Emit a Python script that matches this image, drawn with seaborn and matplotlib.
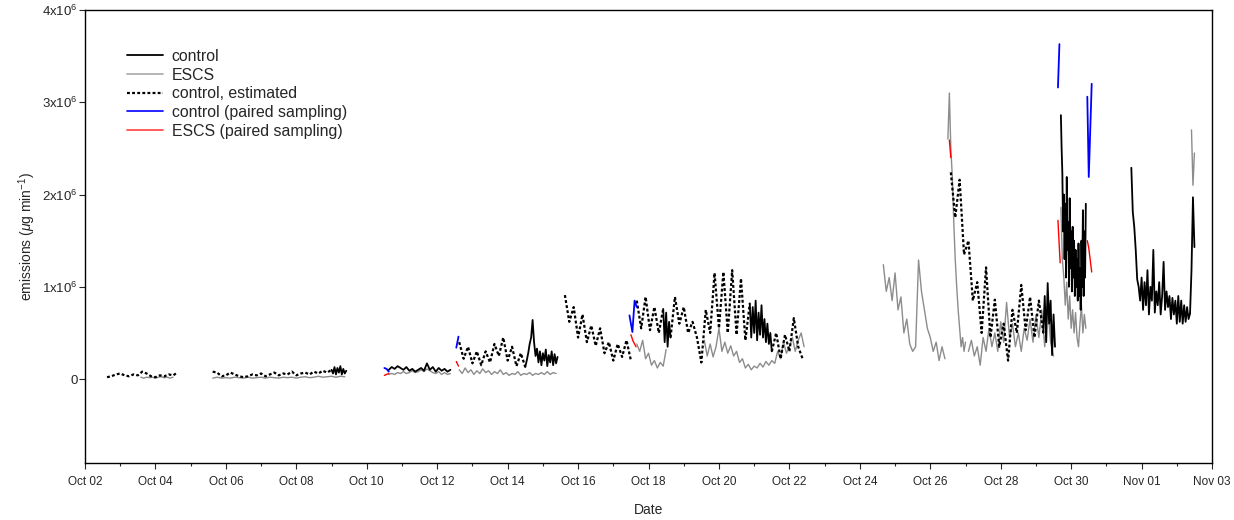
import numpy as np
import pandas as pd
import matplotlib
matplotlib.use('Agg')
import matplotlib.pyplot as plt
import matplotlib.dates as mdates
from matplotlib.lines import Line2D
import seaborn as sns

#---data, emissions in units of 1e6 ug/min
# measured control stack
ctrl_a = [0.1, 0.06, 0.13, 0.05, 0.12, 0.07, 0.14, 0.05, 0.11, 0.06, 0.09]
ctrl_b = [0.1, 0.13, 0.11, 0.14, 0.12, 0.1, 0.13, 0.09, 0.11, 0.08, 0.1, 0.12, 0.09, 0.17, 0.1, 0.13,
          0.08, 0.12, 0.09, 0.11, 0.08, 0.1]
ctrl_c = [0.13, 0.2, 0.28, 0.38, 0.45, 0.64, 0.4, 0.25, 0.33, 0.18, 0.3, 0.15, 0.28, 0.2, 0.32, 0.14,
          0.26, 0.18, 0.3, 0.15, 0.27, 0.17, 0.24]
ctrl_e = [0.76, 0.40, 0.72, 0.35, 0.62, 0.45]
ctrl_f = [0.82, 0.45, 0.78, 0.5, 0.85, 0.42, 0.72, 0.48, 0.8, 0.45, 0.65, 0.4, 0.6, 0.38, 0.5, 0.3]
ctrl_h = [0.5, 0.9, 0.4, 1.04, 0.6, 0.85, 0.26, 0.7, 0.35]
ctrl_i = [2.86, 2.5, 2.23, 1.6, 2.0, 1.3, 1.9, 1.1, 2.19, 1.4, 1.7, 1.0, 1.96, 1.2, 1.6, 0.95, 1.65,
          1.1, 1.5, 0.9, 1.4, 1.0, 1.3, 0.85, 1.47, 0.9, 1.2, 0.75, 1.5, 1.0, 1.83, 0.9, 1.6, 1.1, 1.9]
ctrl_j = [2.29, 1.81, 1.65, 1.4, 1.08, 1.0, 0.85, 1.1, 0.75, 1.05, 0.8, 1.18, 0.7, 1.0, 0.85, 1.4,
          0.72, 0.95, 0.8, 1.05, 0.7, 0.9, 1.27, 0.75, 0.95, 0.78, 0.9, 0.65, 0.88, 0.7, 0.85, 0.6,
          0.9, 0.62, 0.85, 0.6, 0.8, 0.62, 0.78, 0.65, 0.71]
ctrl_k = [0.71, 1.18, 1.97, 1.43]

# estimated control
est_a = [0.02, 0.03, 0.05, 0.06, 0.04, 0.03, 0.05, 0.04, 0.08, 0.06, 0.03, 0.02, 0.04, 0.03, 0.05, 0.04, 0.07]
est_b = [0.08, 0.07, 0.03, 0.04, 0.07, 0.05, 0.03, 0.02, 0.03, 0.05, 0.04, 0.06, 0.03, 0.05, 0.07, 0.04,
         0.06, 0.05, 0.08, 0.04, 0.06, 0.07, 0.05, 0.08, 0.06, 0.09, 0.07, 0.1]
est_c = [0.40, 0.22, 0.35, 0.17, 0.30, 0.15, 0.30, 0.18, 0.38, 0.25, 0.45, 0.20, 0.35, 0.14, 0.28, 0.13]
est_d = [0.91, 0.62, 0.78, 0.45, 0.70, 0.40, 0.58, 0.36, 0.55, 0.28, 0.40, 0.20, 0.38, 0.24, 0.42, 0.20]
est_e = [0.85, 0.55, 0.89, 0.53, 0.78, 0.50, 0.76]
est_f = [0.45, 0.89, 0.6, 0.78, 0.5, 0.62, 0.45, 0.18, 0.75, 0.5, 1.15, 0.55, 1.16, 0.5, 1.18, 0.48,
         1.09, 0.42, 0.82]
est_g = [0.3, 0.5, 0.22, 0.48, 0.3, 0.66, 0.35, 0.22]
est_h = [2.24, 1.75, 2.16, 1.35, 1.5, 0.85, 1.05, 0.5, 1.21, 0.45, 0.86, 0.35, 0.6, 0.2, 0.75, 0.5,
         1.02, 0.53, 0.89, 0.45, 0.85, 0.5]

# ESCS stack
escs_a = [0.02, 0.01, 0.02, 0.015, 0.02, 0.01, 0.02, 0.025, 0.015, 0.02, 0.01, 0.02]
escs_b = [0.01, 0.02, 0.01, 0.015, 0.01, 0.02, 0.015, 0.01, 0.02, 0.01, 0.015, 0.02, 0.01, 0.02, 0.015,
          0.01, 0.02, 0.015, 0.02, 0.01, 0.02, 0.025, 0.015, 0.02, 0.03, 0.02, 0.025, 0.03, 0.02, 0.03, 0.025]
escs_c = [0.05, 0.06, 0.05, 0.07, 0.06, 0.08, 0.06, 0.07, 0.09, 0.07, 0.08, 0.1, 0.08, 0.11, 0.09, 0.07,
          0.06, 0.08, 0.05, 0.07, 0.05, 0.06]
escs_d = [0.1, 0.06, 0.12, 0.07, 0.1, 0.05, 0.09, 0.06, 0.11, 0.07, 0.09, 0.05, 0.08, 0.06, 0.1, 0.05,
          0.07, 0.04, 0.06, 0.05, 0.08, 0.04, 0.06, 0.05, 0.07, 0.04, 0.06, 0.05, 0.07, 0.05, 0.08, 0.05,
          0.07, 0.06]
escs_e = [0.38, 0.3, 0.42, 0.22, 0.28, 0.15, 0.2, 0.12, 0.18, 0.14, 0.32]
escs_f = [0.42, 0.25, 0.38, 0.24, 0.35, 0.55, 0.3, 0.4, 0.28, 0.36, 0.25, 0.3, 0.18, 0.22, 0.12, 0.16,
          0.1, 0.14, 0.12, 0.17, 0.13, 0.19, 0.15, 0.2, 0.17, 0.3, 0.22, 0.4, 0.28, 0.35, 0.45, 0.3,
          0.42, 0.5, 0.35]
escs_g = [1.24, 0.95, 1.1, 0.85, 1.15, 0.75, 0.89, 0.5, 0.65, 0.38, 0.3, 0.35, 1.29, 0.95, 0.75, 0.55,
          0.45, 0.3, 0.4, 0.2, 0.35, 0.22]
escs_h = [2.6, 3.1, 2.5, 2.2, 1.7, 1.3, 1.0, 0.75, 0.55, 0.35, 0.45, 0.3, 0.4]
escs_i = [0.3, 0.42, 0.25, 0.35, 0.15, 0.45, 0.3, 0.55, 0.35, 0.5, 0.3, 0.62, 0.4, 0.83, 0.45, 0.6,
          0.35, 0.5, 0.3, 0.55, 0.42, 0.65, 0.4, 0.7, 0.45, 0.75, 0.35, 0.8, 0.4, 0.25]
escs_j = [1.86, 1.3, 1.1, 0.8, 1.05, 0.65, 0.9, 0.55, 0.75, 0.5, 0.72, 0.45, 0.35, 0.6, 0.8, 0.5, 0.7, 0.55]
escs_k = [2.7, 2.1, 2.45]

# paired sampling runs
pc_1_t = ['2012-10-10 12:00', '2012-10-10 13:30', '2012-10-10 15:00']
pc_1 = [0.12, 0.11, 0.08]
pc_2_t = ['2012-10-12 13:00', '2012-10-12 14:30']
pc_2 = [0.34, 0.46]
pc_3_t = ['2012-10-17 11:00', '2012-10-17 13:00', '2012-10-17 14:30', '2012-10-17 16:00']
pc_3 = [0.69, 0.51, 0.85, 0.78]
pc_4_t = ['2012-10-29 15:00', '2012-10-29 16:00']
pc_4 = [3.16, 3.63]
pc_5_t = ['2012-10-30 11:00', '2012-10-30 12:00', '2012-10-30 14:00']
pc_5 = [3.06, 2.19, 3.2]

pe_1_t = ['2012-10-10 12:00', '2012-10-10 13:30', '2012-10-10 15:00']
pe_1 = [0.04, 0.05, 0.06]
pe_2_t = ['2012-10-12 13:00', '2012-10-12 14:30']
pe_2 = [0.19, 0.14]
pe_3_t = ['2012-10-17 12:00', '2012-10-17 13:30', '2012-10-17 15:30']
pe_3 = [0.48, 0.41, 0.35]
pe_4_t = ['2012-10-26 13:00', '2012-10-26 14:00']
pe_4 = [2.59, 2.4]
pe_5_t = ['2012-10-29 15:00', '2012-10-29 16:30']
pe_5 = [1.72, 1.26]
pe_6_t = ['2012-10-30 11:00', '2012-10-30 12:00', '2012-10-30 14:00']
pe_6 = [1.5, 1.42, 1.16]

ytick_vals = [0, 1e6, 2e6, 3e6, 4e6]
ytick_labels = ['0', '1x10$^{6}$', '2x10$^{6}$', '3x10$^{6}$', '4x10$^{6}$']


def regular(segs):
    frames = []
    for k, (start, step, vals) in enumerate(segs):
        t = pd.date_range(start, periods=len(vals), freq=step)
        frames.append(pd.DataFrame({'time': t, 'emis': np.array(vals) * 1e6, 'seg': k}))
    return pd.concat(frames, ignore_index=True)


def paired(segs):
    frames = []
    for k, (times, vals) in enumerate(segs):
        frames.append(pd.DataFrame({'time': pd.to_datetime(times), 'emis': np.array(vals) * 1e6, 'seg': k}))
    return pd.concat(frames, ignore_index=True)


df_ctrl = regular([('2012-10-09 00:00', '1h', ctrl_a), ('2012-10-10 15:00', '2h', ctrl_b),
                   ('2012-10-14 12:00', '1h', ctrl_c), ('2012-10-18 10:00', '1h', ctrl_e),
                   ('2012-10-20 21:00', '1h', ctrl_f), ('2012-10-29 05:00', '1h', ctrl_h),
                   ('2012-10-29 17:00', '30min', ctrl_i), ('2012-10-31 17:00', '1h', ctrl_j),
                   ('2012-11-02 09:00', '1h', ctrl_k)])
df_est = regular([('2012-10-02 15:00', '3h', est_a), ('2012-10-05 15:00', '3h', est_b),
                  ('2012-10-12 15:00', '3h', est_c), ('2012-10-15 15:00', '3h', est_d),
                  ('2012-10-17 16:00', '3h', est_e), ('2012-10-18 15:00', '3h', est_f),
                  ('2012-10-21 12:00', '3h', est_g), ('2012-10-26 14:00', '3h', est_h)])
df_escs = regular([('2012-10-03 14:00', '2h', escs_a), ('2012-10-05 15:00', '3h', escs_b),
                   ('2012-10-10 15:00', '2h', escs_c), ('2012-10-12 15:00', '2h', escs_d),
                   ('2012-10-17 16:00', '2h', escs_e), ('2012-10-19 14:00', '2h', escs_f),
                   ('2012-10-24 16:00', '2h', escs_g), ('2012-10-26 12:00', '1h', escs_h),
                   ('2012-10-27 02:00', '2h', escs_i), ('2012-10-29 17:00', '1h', escs_j),
                   ('2012-11-02 10:00', '1h', escs_k)])
df_pc = paired([(pc_1_t, pc_1), (pc_2_t, pc_2), (pc_3_t, pc_3), (pc_4_t, pc_4), (pc_5_t, pc_5)])
df_pe = paired([(pe_1_t, pe_1), (pe_2_t, pe_2), (pe_3_t, pe_3), (pe_4_t, pe_4), (pe_5_t, pe_5),
                (pe_6_t, pe_6)])

######################## plot #########################
sns.set_style('ticks')
plt.rcParams['font.family'] = ['Liberation Sans', 'DejaVu Sans']
plt.rcParams['mathtext.fontset'] = 'custom'
plt.rcParams['mathtext.rm'] = 'Liberation Sans'
plt.rcParams['mathtext.it'] = 'Liberation Sans:italic'

GRAY = '#8c8c8c'
DOTS = (0, (1.3, 1.0))

fig = plt.figure(figsize=(12.34, 5.2), dpi=100)
ax = fig.add_axes([0.0689, 0.1096, 0.9133, 0.8712])

common = dict(x='time', y='emis', units='seg', estimator=None, sort=False, legend=False, ax=ax)
sns.lineplot(data=df_escs, color=GRAY, linewidth=1.0, **common)
sns.lineplot(data=df_est, color='black', linewidth=1.6, linestyle=DOTS, **common)
sns.lineplot(data=df_ctrl, color='black', linewidth=1.3, **common)
sns.lineplot(data=df_pc, color='#0000ff', linewidth=1.3, **common)
sns.lineplot(data=df_pe, color='#ff0000', linewidth=1.0, **common)

ax.set_xlim(mdates.date2num(pd.Timestamp('2012-10-02')), mdates.date2num(pd.Timestamp('2012-11-03')))
ax.set_ylim(-0.91e6, 4e6)
ax.set_xticks(mdates.date2num(pd.date_range('2012-10-02', '2012-11-03', freq='2D')))
ax.set_xticks(mdates.date2num(pd.date_range('2012-10-02', '2012-11-03', freq='1D')), minor=True)
ax.xaxis.set_major_formatter(mdates.DateFormatter('%b %d'))
ax.set_yticks(ytick_vals)
ax.set_yticklabels(ytick_labels)

ax.tick_params(axis='x', which='major', direction='out', length=4, width=0.8, labelsize=8.5, pad=5)
ax.tick_params(axis='x', which='minor', direction='out', length=2.2, width=0.8)
ax.tick_params(axis='y', which='major', direction='out', length=4, width=0.8, labelsize=9.5, pad=1)
for s in ax.spines.values():
    s.set_linewidth(1.0)
    s.set_color('black')

ax.set_xlabel('Date', fontsize=10, labelpad=11)
ax.set_ylabel('emissions ($\\mu$g min$^{-1}$)', fontsize=10, labelpad=3)

handles = [Line2D([], [], color='black', lw=1.3),
           Line2D([], [], color='#b0b0b0', lw=1.3),
           Line2D([], [], color='black', lw=1.6, linestyle=DOTS),
           Line2D([], [], color='#0000ff', lw=1.2),
           Line2D([], [], color='#ff4040', lw=1.2)]
labels = ['control', 'ESCS', 'control, estimated', 'control (paired sampling)', 'ESCS (paired sampling)']
ax.legend(handles, labels, loc='upper left', bbox_to_anchor=(0.037, 0.914), frameon=False,
          fontsize=11.4, handlelength=2.3, handletextpad=0.53, labelspacing=0.23,
          borderpad=0, borderaxespad=0)

fig.savefig('out.png', dpi=100)
